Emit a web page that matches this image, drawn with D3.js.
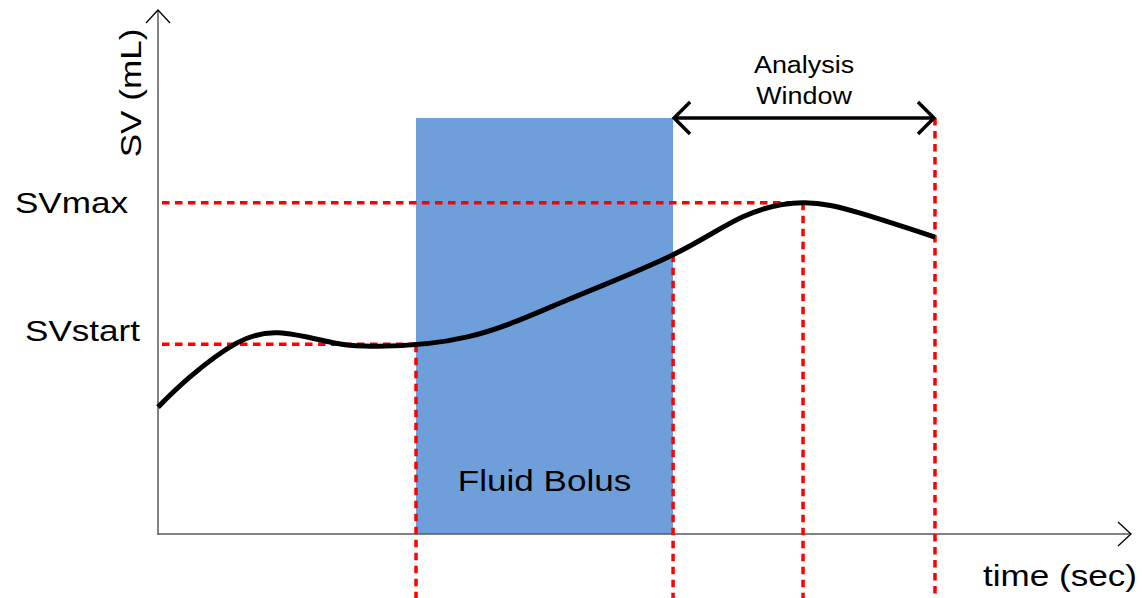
<!DOCTYPE html>
<html>
<head>
<meta charset="utf-8">
<script src="https://cdn.jsdelivr.net/npm/d3@7"></script>
<style>
  body { margin: 0; background: #fff; }
  svg text { font-family: "Liberation Sans", Arial, sans-serif; fill: #000; }
</style>
</head>
<body>
<svg id="chart" width="1142" height="598"></svg>
<script>
// curve samples (time units, SV units)
var curveTime = [0, 3.3, 8.1, 12.4, 17.0, 22.0, 31.9, 42.2, 53.1, 60.3, 66.5, 72.4, 80.1]
var curveSV = [24.4, 30.2, 36.7, 38.7, 37.2, 36.1, 37.9, 45.0, 53.7, 61.0, 63.7, 61.7, 57.1]
// events
var bolus = [26.6, 53.1]
var bolusTop = 80
var windowEnd = 80.1
var svLevels = [{label: "SVstart", value: 36.5, t: 26.6}, {label: "SVmax", value: 63.7, t: 66.5}]
var markTimes = [26.6, 53.1, 66.5, 80.1]
var labels = {y: "SV (mL)", x: "time (sec)", bolus: "Fluid Bolus", win: ["Analysis", "Window"]}

var W = 1142, H = 598
var svg = d3.select("#chart")
var x = d3.scaleLinear().domain([0, 100]).range([158, 1128])
var y = d3.scaleLinear().domain([0, 100]).range([534, 14])
var sx = 1.17 // text in the reference is stretched horizontally

function stretchedText(g, txt, px, py, size, anchor, rot) {
    return g.append("text").text(txt).attr("font-size", size).attr("text-anchor", anchor || "start")
        .attr("transform", "translate(" + px + "," + py + ")" + (rot ? " rotate(" + rot + ")" : "") + " scale(" + sx + ",1)")
}

// bolus rect
svg.append("rect").attr("x", x(bolus[0])).attr("y", y(bolusTop)).attr("width", x(bolus[1]) - x(bolus[0]))
    .attr("height", y(0) - y(bolusTop)).attr("fill", "#6f9fdb")

// axes
var axisCol = "#595959"
svg.append("line").attr("x1", x(0)).attr("x2", x(0)).attr("y1", y(0) + 1).attr("y2", y(100) - 4).attr("stroke", axisCol).attr("stroke-width", 1.5)
svg.append("polyline").attr("points", [[x(0) - 12, y(100) + 9], [x(0), y(100) - 4], [x(0) + 12, y(100) + 9]].join(" "))
    .attr("fill", "none").attr("stroke", "#000").attr("stroke-width", 1.3)
svg.append("line").attr("x1", x(0)).attr("x2", x(100) + 2).attr("y1", y(0)).attr("y2", y(0)).attr("stroke", axisCol).attr("stroke-width", 1.5)
svg.append("polyline").attr("points", [[x(100) - 10, y(0) - 12], [x(100) + 3, y(0)], [x(100) - 10, y(0) + 12]].join(" "))
    .attr("fill", "none").attr("stroke", "#000").attr("stroke-width", 1.3)

var red = svg.append("g").attr("stroke", "#ff0000").attr("stroke-width", 3.5).attr("stroke-dasharray", "7.5,5.5").attr("fill", "none")

// SV curve
var line = d3.line().x(d => x(d[0])).y(d => y(d[1])).curve(d3.curveNatural)
var curvePath = svg.append("path").datum(d3.zip(curveTime, curveSV)).attr("d", line)
    .attr("fill", "none").attr("stroke", "#000").attr("stroke-width", 5)

// find pixel y of the curve at a given time
function curveY(t) {
    var node = curvePath.node(), len = node.getTotalLength(), lo = 0, hi = len, px = x(t)
    for (var k = 0; k < 40; k++) {
        var mid = (lo + hi) / 2
        if (node.getPointAtLength(mid).x < px) lo = mid; else hi = mid
    }
    return node.getPointAtLength(lo).y
}

// red dashed guides
svLevels.forEach(function (d) {
    red.append("line").attr("x1", x(0) + 4).attr("x2", x(d.t)).attr("y1", y(d.value)).attr("y2", y(d.value))
})
red.selectAll(".v").data(markTimes).join("line").attr("class", "v")
    .attr("x1", d => x(d)).attr("x2", d => x(d))
    .attr("y1", d => d === windowEnd ? y(bolusTop) : curveY(d)).attr("y2", H)
svg.node().appendChild(curvePath.node())

// analysis window arrow
var aw = svg.append("g").attr("stroke", "#000").attr("stroke-width", 3.5).attr("fill", "none")
aw.append("line").attr("x1", x(bolus[1]) + 2).attr("x2", x(windowEnd) - 2).attr("y1", y(bolusTop)).attr("y2", y(bolusTop))
aw.append("polyline").attr("points", [[x(bolus[1]) + 17, y(bolusTop) - 16], [x(bolus[1]) + 1, y(bolusTop)], [x(bolus[1]) + 17, y(bolusTop) + 16]].join(" "))
aw.append("polyline").attr("points", [[x(windowEnd) - 17, y(bolusTop) - 16], [x(windowEnd) - 1, y(bolusTop)], [x(windowEnd) - 17, y(bolusTop) + 16]].join(" "))

// text
var tg = svg.append("g")
stretchedText(tg, labels.win[0], (x(bolus[1]) + x(windowEnd)) / 2, 73, 23, "middle")
stretchedText(tg, labels.win[1], (x(bolus[1]) + x(windowEnd)) / 2, 104, 23, "middle")
stretchedText(tg, labels.bolus, (x(bolus[0]) + x(bolus[1])) / 2, 491, 30, "middle")
stretchedText(tg, labels.x, 1137, 586, 30, "end")
stretchedText(tg, labels.y, 141, 93, 30, "middle", -90)
var labelPos = {SVstart: [140, -3], SVmax: [128, 10]}
svLevels.forEach(function (d) {
    stretchedText(tg, d.label, labelPos[d.label][0], y(d.value) + labelPos[d.label][1], 30, "end")
})
</script>
</body>
</html>
